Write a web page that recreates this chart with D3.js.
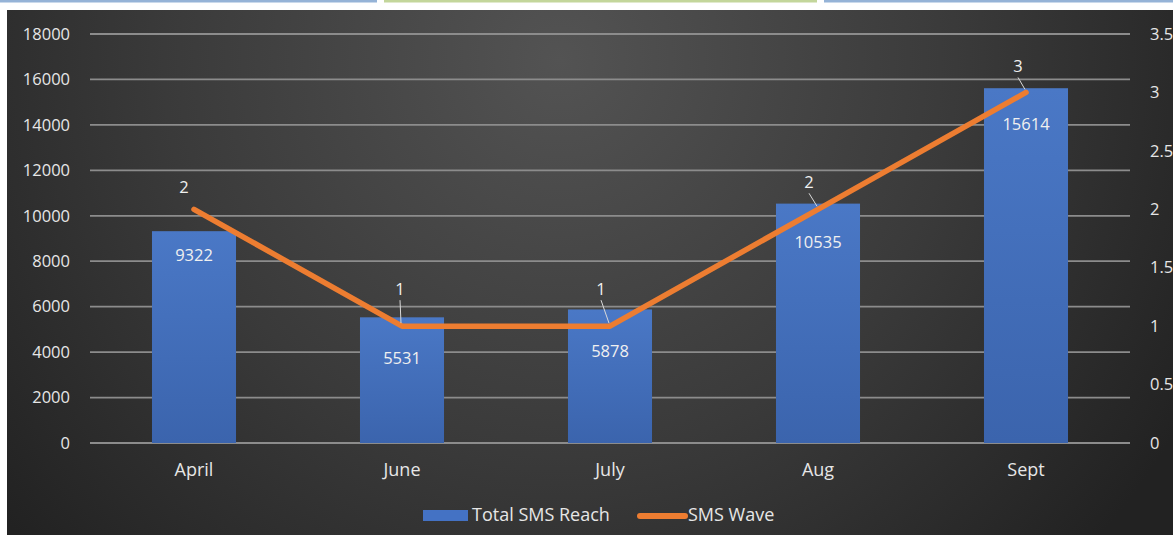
<!DOCTYPE html>
<html>
<head>
<meta charset="utf-8">
<script src="https://cdn.jsdelivr.net/npm/d3@7/dist/d3.min.js"></script>
<style>
  html, body { margin: 0; padding: 0; background: #ffffff; }
  svg { display: block; }
  text { font-family: "Open Sans", "DejaVu Sans", sans-serif; }
</style>
</head>
<body>
<svg id="chart" width="1173" height="535"></svg>
<script>
// Monthly SMS reach (bars, left axis) and number of SMS waves (line, right axis)
const months = ["April", "June", "July", "Aug", "Sept"];
const smsReach = [9322, 5531, 5878, 10535, 15614];
const smsWave = [2, 1, 1, 2, 3];
const leftTicks = [0, 2000, 4000, 6000, 8000, 10000, 12000, 14000, 16000, 18000];
const rightTicks = [0, 0.5, 1, 1.5, 2, 2.5, 3, 3.5];
const seriesNames = ["Total SMS Reach", "SMS Wave"];

// label placement (pixels) for the bar values and the wave counts
const barLabelDrop = [25, 42, 43, 40, 37];
const waveLabelShift = [[-10, -21], [-2, -36], [-9, -36], [-9, -26], [-8, -25]];
const waveLeader = [false, true, true, true, true];

const W = 1173, H = 535;
const svg = d3.select("#chart");
const defs = svg.append("defs");

const bg = defs.append("radialGradient").attr("id", "bg")
  .attr("gradientUnits", "userSpaceOnUse")
  .attr("cx", 560).attr("cy", 60).attr("r", 720);
bg.append("stop").attr("offset", "0%").attr("stop-color", "#535353");
bg.append("stop").attr("offset", "55%").attr("stop-color", "#3a3a3a");
bg.append("stop").attr("offset", "100%").attr("stop-color", "#222222");

const barGrad = defs.append("linearGradient").attr("id", "barGrad")
  .attr("x1", 0).attr("y1", 0).attr("x2", 0).attr("y2", 1);
barGrad.append("stop").attr("offset", "0%").attr("stop-color", "#4a78c6");
barGrad.append("stop").attr("offset", "100%").attr("stop-color", "#3b64ad");

// page header rules
svg.append("rect").attr("x", 0).attr("y", 0).attr("width", 377).attr("height", 2.5).attr("fill", "#95b3d7");
svg.append("rect").attr("x", 384).attr("y", 0).attr("width", 433).attr("height", 2.5).attr("fill", "#c3d69b");
svg.append("rect").attr("x", 824).attr("y", 0).attr("width", 349).attr("height", 2.5).attr("fill", "#95b3d7");

// chart panel
svg.append("rect").attr("x", 7).attr("y", 10).attr("width", W - 7).attr("height", H - 10).attr("fill", "url(#bg)");

const plot = { left: 90, right: 1130, top: 34, bottom: 443 };

const x = d3.scaleBand().domain(months).range([plot.left, plot.right]).paddingInner(0.596).paddingOuter(0.298);
const yL = d3.scaleLinear().domain([0, 18000]).range([plot.bottom, plot.top]);
const yR = d3.scaleLinear().domain([0, 3.5]).range([plot.bottom, plot.top]);

const numFont = "16.5px", wordFont = "18px";

// gridlines
svg.append("g").selectAll("line").data(leftTicks).join("line")
  .attr("x1", plot.left).attr("x2", plot.right)
  .attr("y1", d => yL(d)).attr("y2", d => yL(d))
  .attr("stroke", "#8c8c8c").attr("stroke-width", 1.8);

// left axis labels
const axL = svg.append("g").attr("transform", `translate(${plot.left},0)`)
  .call(d3.axisLeft(yL).tickValues(leftTicks).tickFormat(d3.format("d")).tickSize(0).tickPadding(20));
axL.select(".domain").remove();
axL.selectAll("text").attr("fill", "#e6e6e6").style("font-size", numFont).style("font-family", "'Open Sans', sans-serif");

// right axis labels
const axR = svg.append("g").attr("transform", `translate(${plot.right},0)`)
  .call(d3.axisRight(yR).tickValues(rightTicks).tickFormat(d => String(d)).tickSize(0).tickPadding(20));
axR.select(".domain").remove();
axR.selectAll("text").attr("fill", "#e6e6e6").style("font-size", numFont).style("font-family", "'Open Sans', sans-serif");

// bottom axis labels
const axB = svg.append("g").attr("transform", `translate(0,${plot.bottom})`)
  .call(d3.axisBottom(x).tickSize(0).tickPadding(20));
axB.select(".domain").remove();
axB.selectAll("text").attr("fill", "#e6e6e6").style("font-size", wordFont).style("font-family", "'Open Sans', sans-serif");

// bars
svg.append("g").selectAll("rect").data(months).join("rect")
  .attr("x", d => x(d)).attr("width", x.bandwidth())
  .attr("y", (d, i) => yL(smsReach[i]))
  .attr("height", (d, i) => yL(0) - yL(smsReach[i]))
  .attr("fill", "url(#barGrad)");

// bar value labels
svg.append("g").selectAll("text").data(months).join("text")
  .attr("x", d => x(d) + x.bandwidth() / 2)
  .attr("y", (d, i) => yL(smsReach[i]) + barLabelDrop[i])
  .attr("text-anchor", "middle").attr("dominant-baseline", "middle")
  .attr("fill", "#f0f0f0").style("font-size", numFont)
  .text((d, i) => smsReach[i]);

// wave line
const cx = d => x(d) + x.bandwidth() / 2;
const line = d3.line().x((d, i) => cx(months[i])).y(d => yR(d));
svg.append("path").datum(smsWave)
  .attr("d", line).attr("fill", "none")
  .attr("stroke", "#ed7d31").attr("stroke-width", 5.5)
  .attr("stroke-linejoin", "round").attr("stroke-linecap", "round");

// wave labels with leader lines
const wl = svg.append("g");
months.forEach((m, i) => {
  const px = cx(m), py = yR(smsWave[i]);
  const lx = px + waveLabelShift[i][0], ly = py + waveLabelShift[i][1];
  if (waveLeader[i]) {
    wl.append("line")
      .attr("x1", lx).attr("y1", ly + 10)
      .attr("x2", px - 1).attr("y2", py - 3)
      .attr("stroke", "#d9d9d9").attr("stroke-width", 1);
  }
  wl.append("text")
    .attr("x", lx).attr("y", ly)
    .attr("text-anchor", "middle").attr("dominant-baseline", "middle")
    .attr("fill", "#f0f0f0").style("font-size", numFont)
    .text(smsWave[i]);
});

// legend
const lg = svg.append("g");
lg.append("rect").attr("x", 423).attr("y", 510).attr("width", 45).attr("height", 11).attr("fill", "#4472c4");
lg.append("text").attr("x", 472).attr("y", 516).attr("dominant-baseline", "middle")
  .attr("fill", "#e6e6e6").style("font-size", wordFont).text(seriesNames[0]);
lg.append("line").attr("x1", 640).attr("x2", 685).attr("y1", 516).attr("y2", 516)
  .attr("stroke", "#ed7d31").attr("stroke-width", 6).attr("stroke-linecap", "round");
lg.append("text").attr("x", 688).attr("y", 516).attr("dominant-baseline", "middle")
  .attr("fill", "#e6e6e6").style("font-size", wordFont).text(seriesNames[1]);
</script>
</body>
</html>
